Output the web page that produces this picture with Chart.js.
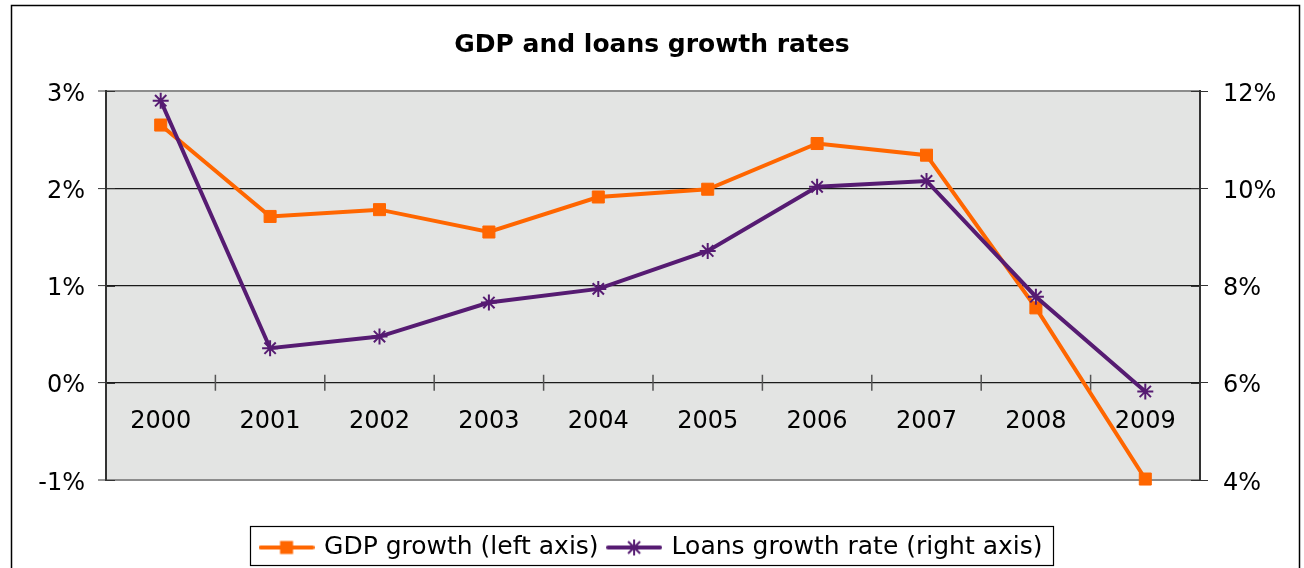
<!DOCTYPE html>
<html>
<head>
<meta charset="utf-8">
<script src="https://cdn.jsdelivr.net/npm/chart.js@4"></script>
<style>
  html, body { margin: 0; padding: 0; background: #ffffff; }
  #wrap { width: 1304px; height: 568px; position: relative; }
</style>
</head>
<body>
<div id="wrap"><canvas id="c"></canvas></div>
<script>
const categories = ['2000','2001','2002','2003','2004','2005','2006','2007','2008','2009'];
const gdpGrowth = [2.65, 1.71, 1.78, 1.55, 1.91, 1.99, 2.46, 2.34, 0.77, -0.99];
const loansGrowth = [11.80, 6.71, 6.95, 7.65, 7.93, 8.71, 10.03, 10.15, 7.77, 5.82];
const leftTicks = [-1, 0, 1, 2, 3];
const rightTicks = [4, 6, 8, 10, 12];

const ORANGE = '#ff6600';
const PURPLE = '#561b72';
const FONT = 'DejaVu Sans';

function legendSymbol(kind, color) {
  const cv = document.createElement('canvas');
  cv.width = 56; cv.height = 22;
  const g = cv.getContext('2d');
  g.strokeStyle = color; g.lineWidth = 4; g.lineCap = 'round';
  g.beginPath(); g.moveTo(2, 11); g.lineTo(54, 11); g.stroke();
  if (kind === 'rect') {
    g.fillStyle = color; g.fillRect(28 - 6.5, 11 - 6.5, 13, 13);
  } else {
    g.lineWidth = 2; g.lineCap = 'butt';
    const r = 8;
    g.beginPath();
    g.moveTo(28, 11 - r); g.lineTo(28, 11 + r);
    g.moveTo(28 - r * 0.75, 11 - r * 0.75); g.lineTo(28 + r * 0.75, 11 + r * 0.75);
    g.moveTo(28 + r * 0.75, 11 - r * 0.75); g.lineTo(28 - r * 0.75, 11 + r * 0.75);
    g.stroke();
  }
  return cv;
}
const legendImgs = [legendSymbol('rect', ORANGE), legendSymbol('star', PURPLE)];

const decor = {
  id: 'decor',
  beforeDraw(chart) {
    const { ctx, chartArea: a } = chart;
    ctx.save();
    ctx.fillStyle = '#e3e4e3';
    ctx.fillRect(a.left, a.top, a.right - a.left, a.bottom - a.top);
    ctx.restore();
  },
  beforeDatasetsDraw(chart) {
    const { ctx } = chart;
    const xs = chart.scales.x, ys = chart.scales.y;
    const y0 = ys.getPixelForValue(0);
    ctx.save();
    ctx.strokeStyle = '#555';
    ctx.lineWidth = 1.5;
    for (let i = 1; i < categories.length; i++) {
      const bx = (xs.getPixelForValue(i - 1) + xs.getPixelForValue(i)) / 2;
      ctx.beginPath(); ctx.moveTo(bx, y0 - 8); ctx.lineTo(bx, y0 + 8); ctx.stroke();
    }
    ctx.fillStyle = '#000';
    ctx.font = '24px "' + FONT + '"';
    ctx.textAlign = 'center';
    ctx.textBaseline = 'middle';
    categories.forEach((c, i) => ctx.fillText(c, xs.getPixelForValue(i), y0 + 39));
    ctx.restore();
  },
  afterDraw(chart) {
    const { ctx, chartArea: a } = chart;
    ctx.save();
    ctx.strokeStyle = '#333'; ctx.lineWidth = 1;
    leftTicks.forEach(v => {
      const py = Math.round(chart.scales.y.getPixelForValue(v)) + 0.5;
      ctx.beginPath(); ctx.moveTo(a.left, py); ctx.lineTo(a.left + 9, py); ctx.stroke();
    });
    rightTicks.forEach(v => {
      const py = Math.round(chart.scales.y1.getPixelForValue(v)) + 0.5;
      ctx.beginPath(); ctx.moveTo(a.right - 9, py); ctx.lineTo(a.right, py); ctx.stroke();
    });
    const hb = chart.legend.legendHitBoxes;
    if (hb && hb.length) {
      const l = hb[0].left - 12;
      const r = hb[hb.length - 1].left + hb[hb.length - 1].width + 10;
      const t = hb[0].top - 9;
      const b = hb[0].top + hb[0].height + 5;
      ctx.strokeStyle = '#000'; ctx.lineWidth = 1.2;
      ctx.strokeRect(Math.round(l) + 0.5, Math.round(t) + 0.5, Math.round(r - l), Math.round(b - t));
    }
    ctx.strokeStyle = '#000'; ctx.lineWidth = 1.5;
    ctx.strokeRect(11.5, 5.5, 1288, 700);
    ctx.restore();
  }
};

const tickFont = { family: FONT, size: 24, lineHeight: '7px' };

new Chart(document.getElementById('c'), {
  type: 'line',
  data: {
    labels: categories,
    datasets: [
      {
        label: 'GDP growth (left axis)',
        data: gdpGrowth,
        yAxisID: 'y',
        borderColor: ORANGE,
        backgroundColor: ORANGE,
        borderWidth: 4,
        pointStyle: 'rect',
        pointRadius: 8.5,
        pointHoverRadius: 8.5,
        pointBorderWidth: 1,
        pointBackgroundColor: ORANGE,
        pointBorderColor: ORANGE,
        tension: 0,
        clip: false,
        order: 1
      },
      {
        label: 'Loans growth rate (right axis)',
        data: loansGrowth,
        yAxisID: 'y1',
        borderColor: PURPLE,
        backgroundColor: PURPLE,
        borderWidth: 4,
        pointStyle: 'star',
        pointRadius: 8,
        pointHoverRadius: 8,
        pointBorderWidth: 2,
        pointBorderColor: PURPLE,
        tension: 0,
        clip: false,
        order: 0
      }
    ]
  },
  options: {
    responsive: true,
    maintainAspectRatio: false,
    animation: false,
    events: [],
    layout: { padding: { left: 0, right: 0, top: 0, bottom: -2 } },
    scales: {
      x: {
        type: 'category',
        offset: true,
        display: true,
        grid: { display: false },
        border: { display: false },
        ticks: { display: false },
        afterFit: s => { s.height = 44.5; }
      },
      y: {
        type: 'linear',
        position: 'left',
        min: -1, max: 3,
        afterBuildTicks: s => { s.ticks = leftTicks.map(v => ({ value: v })); },
        afterFit: s => { s.width = 106; },
        ticks: {
          padding: 13,
          color: '#000',
          font: tickFont,
          callback: v => ['', v + '%']
        },
        grid: {
          color: c => (c.tick && (c.tick.value === 3 || c.tick.value === -1)) ? '#8c8c8c' : '#1a1a1a',
          lineWidth: c => (c.tick && (c.tick.value === 3 || c.tick.value === -1)) ? 2 : 1.2,
          tickColor: '#333',
          tickLength: 8,
          tickWidth: 1
        },
        border: { display: true, color: '#333', width: 2 }
      },
      y1: {
        type: 'linear',
        position: 'right',
        min: 4, max: 12,
        afterBuildTicks: s => { s.ticks = rightTicks.map(v => ({ value: v })); },
        afterFit: s => { s.width = 104; },
        ticks: {
          padding: 15,
          color: '#000',
          font: tickFont,
          callback: v => ['', v + '%']
        },
        grid: {
          drawOnChartArea: false,
          tickColor: '#333',
          tickLength: 8,
          tickWidth: 1
        },
        border: { display: true, color: '#333', width: 2 }
      }
    },
    plugins: {
      title: {
        display: true,
        text: 'GDP and loans growth rates',
        color: '#000',
        font: { family: FONT, size: 25, weight: 'bold' },
        padding: { top: 30, bottom: 31 }
      },
      legend: {
        display: true,
        position: 'bottom',
        labels: {
          color: '#000',
          font: { family: FONT, size: 25 },
          padding: 10.5,
          usePointStyle: true,
          pointStyleWidth: 50,
          generateLabels: chart => {
            const items = Chart.defaults.plugins.legend.labels.generateLabels(chart);
            items.sort((a, b) => a.datasetIndex - b.datasetIndex);
            items.forEach(it => { it.pointStyle = legendImgs[it.datasetIndex]; });
            return items;
          }
        }
      },
      tooltip: { enabled: false }
    }
  },
  plugins: [decor]
});
</script>
</body>
</html>
